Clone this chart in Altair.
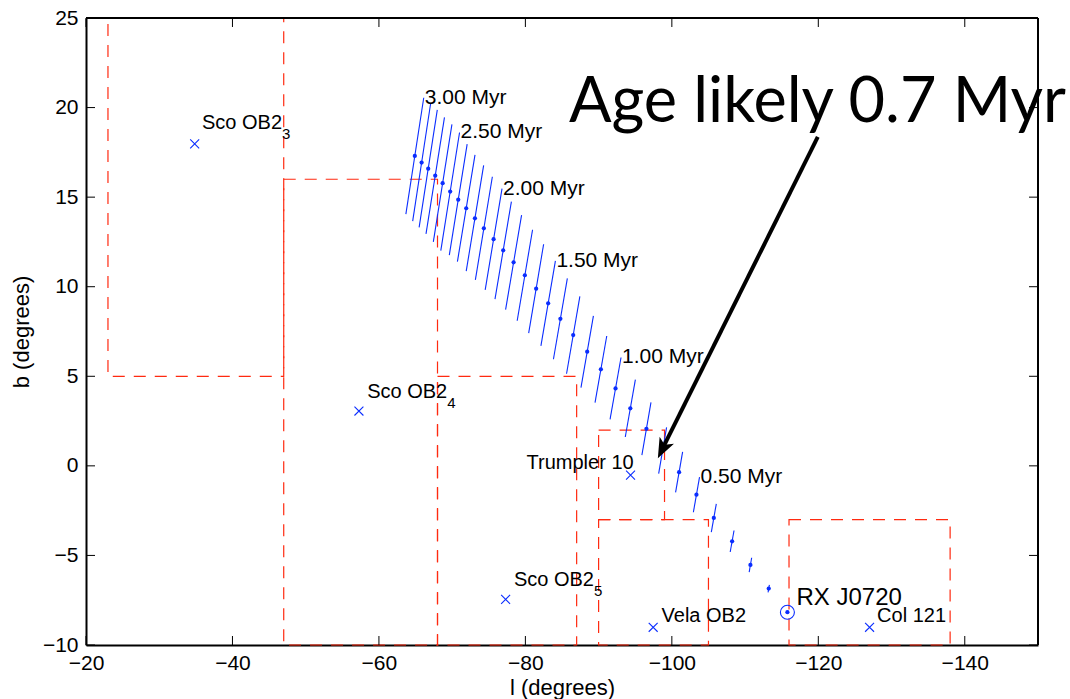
import altair as alt
import pandas as pd

# Back-traced path of RX J0720 (Myr before present), oldest first
track_age = [3.0, 2.9, 2.8, 2.7, 2.6, 2.5, 2.4, 2.3, 2.2, 2.1, 2.0, 1.9, 1.8, 1.7, 1.6,
             1.5, 1.4, 1.3, 1.2, 1.1, 1.0, 0.9, 0.8, 0.7, 0.6, 0.5, 0.4, 0.3, 0.2, 0.1, 0.0]
track_l = [-64.90, -65.83, -66.73, -67.69, -68.70, -69.73, -70.83, -71.92, -73.11, -74.33,
           -75.66, -76.97, -78.39, -79.93, -81.47, -83.11, -84.78, -86.53, -88.44, -90.31,
           -92.31, -94.33, -96.53, -98.74, -100.99, -103.36, -105.73, -108.23, -110.73,
           -113.23, -115.78]
track_b = [17.30, 16.93, 16.59, 16.20, 15.78, 15.31, 14.86, 14.38, 13.82, 13.26,
           12.65, 12.03, 11.36, 10.64, 9.89, 9.07, 8.21, 7.30, 6.37, 5.39,
           4.32, 3.21, 2.07, 0.86, -0.35, -1.61, -2.91, -4.21, -5.53, -6.85, -8.17]
# half-extent of the positional uncertainty along its major axis
err_l = [1.22, 1.22, 1.24, 1.26, 1.27, 1.28, 1.22, 1.20, 1.19, 1.16,
         1.15, 1.12, 1.09, 1.05, 1.02, 0.99, 0.95, 0.91, 0.85, 0.80,
         0.75, 0.69, 0.62, 0.54, 0.48, 0.42, 0.34, 0.26, 0.17, 0.09, 0.0]
err_b = [3.25, 3.27, 3.28, 3.25, 3.28, 3.30, 3.10, 2.98, 2.95, 2.88,
         2.83, 2.72, 2.64, 2.54, 2.48, 2.37, 2.26, 2.16, 2.00, 1.86,
         1.73, 1.60, 1.47, 1.29, 1.13, 0.98, 0.79, 0.60, 0.40, 0.21, 0.0]
labelled_ages = [3.0, 2.5, 2.0, 1.5, 1.0, 0.5]

# OB associations / clusters
cluster_name = ["Sco OB2", "Sco OB2", "Sco OB2", "Trumpler 10", "Vela OB2", "Col 121"]
cluster_sub = ["3", "4", "5", "", "", ""]
cluster_l = [-34.84, -57.27, -77.30, -94.36, -97.45, -127.00]
cluster_b = [17.97, 3.06, -7.45, -0.52, -9.01, -9.01]
label_l = [-35.84, -58.40, -78.43, -80.16, -98.59, -128.03]
label_b = [18.81, 3.77, -6.72, -0.16, -8.72, -8.72]

# neutron star today
star_name = ["RX J0720"]
star_l = [-115.78]
star_b = [-8.17]
star_label_l = [-117.02]
star_label_b = [-7.78]

# boundaries of the association sub-regions
box_l1 = [-23, -47, -68, -90, -90, -116]
box_l2 = [-47, -68, -87, -99, -105, -138]
box_b1 = [5, -10, -10, -3, -10, -10]
box_b2 = [25, 16, 5, 2, -3, -3]

# annotation
note_text = ["Age likely 0.7 Myr"]
note_l = [-85.94]
note_b = [19.2]
arrow_from = (-119.93, 18.36)
arrow_to = (-98.09, 0.43)
arrow_neck = (-98.93, 1.13)

x_ticks = [-20, -40, -60, -80, -100, -120, -140]
y_ticks = [-10, -5, 0, 5, 10, 15, 20, 25]

W, H = 952, 627
FONT = "Liberation Sans"
BLUE = "#0a2dff"
RED = "#ff2a10"

track = pd.DataFrame({"age": track_age, "l": track_l, "b": track_b,
                      "el": err_l, "eb": err_b})
track["l_lo"] = track["l"] + track["el"]
track["b_lo"] = track["b"] - track["eb"]
track["l_hi"] = track["l"] - track["el"]
track["b_hi"] = track["b"] + track["eb"]
age_lab = track[track["age"].isin(labelled_ages)].copy()
age_lab["txt"] = age_lab["age"].map(lambda a: f"{a:.2f} Myr")

clusters = pd.DataFrame({"name": cluster_name, "sub": cluster_sub, "l": cluster_l,
                         "b": cluster_b, "tl": label_l, "tb": label_b})
star = pd.DataFrame({"name": star_name, "l": star_l, "b": star_b,
                     "tl": star_label_l, "tb": star_label_b})
boxes = pd.DataFrame({"l1": box_l1, "l2": box_l2, "b1": box_b1, "b2": box_b2})
note = pd.DataFrame({"txt": note_text, "l": note_l, "b": note_b})
shaft = pd.DataFrame({"l": [arrow_from[0]], "b": [arrow_from[1]],
                      "l2": [arrow_neck[0]], "b2": [arrow_neck[1]]})
head = pd.DataFrame({"l": [arrow_to[0]], "b": [arrow_to[1]]})
xt = pd.DataFrame({"v": x_ticks})
yt = pd.DataFrame({"v": y_ticks})

xs = alt.Scale(domain=[-150, -20], reverse=True, nice=False, zero=False)
ys = alt.Scale(domain=[-10, 25], nice=False, zero=False)

x_axis = alt.Axis(values=x_ticks, title="l (degrees)", ticks=False, grid=False,
                  labelPadding=7, labelFlush=False, labelFontSize=21, labelFont=FONT,
                  labelColor="black", titleFont=FONT, titleFontSize=22,
                  titleFontWeight="normal", titleColor="black", titleX=476, titleY=49,
                  titleBaseline="alphabetic", domainColor="black", domainWidth=2)
y_axis = alt.Axis(values=y_ticks, title="b (degrees)", ticks=False, grid=False,
                  labelPadding=8, labelFontSize=21, labelFont=FONT, labelColor="black",
                  titleFont=FONT, titleFontSize=22, titleFontWeight="normal",
                  titleColor="black", titleX=-58, titleY=313.5, titleAngle=270,
                  titleBaseline="alphabetic", domainColor="black", domainWidth=2)


def X(f):
    return alt.X(f, type="quantitative", scale=xs, axis=x_axis)


def Y(f):
    return alt.Y(f, type="quantitative", scale=ys, axis=y_axis)


region = alt.Chart(boxes).mark_rect(fillOpacity=0, stroke=RED, strokeWidth=1.2,
                                    strokeDash=[12, 9]).encode(
    x=X("l1"), x2="l2", y=Y("b1"), y2="b2")

bars = alt.Chart(track).mark_rule(color=BLUE, strokeWidth=1.1).encode(
    x=X("l_lo"), x2="l_hi", y=Y("b_lo"), y2="b_hi")
dots = alt.Chart(track).mark_circle(color=BLUE, size=18, opacity=1).encode(
    x=X("l"), y=Y("b"))
ages = alt.Chart(age_lab).mark_text(align="left", baseline="middle", dx=1,
                                    font=FONT, fontSize=21, color="black").encode(
    x=X("l_hi"), y=Y("b_hi"), text="txt:N")

cross_shape = "M-1,-1L1,1M-1,1L1,-1"
marks = alt.Chart(clusters).mark_point(shape=cross_shape, size=80, color=BLUE,
                                       strokeWidth=1.1, filled=False, opacity=1).encode(
    x=X("l"), y=Y("b"))
names = alt.Chart(clusters).mark_text(align="left", baseline="alphabetic", font=FONT,
                                      fontSize=20, color="black").encode(
    x=X("tl"), y=Y("tb"), text="name:N")
subs = alt.Chart(clusters).mark_text(align="left", baseline="alphabetic", font=FONT,
                                     fontSize=15, color="black", dx=80, dy=10).encode(
    x=X("tl"), y=Y("tb"), text="sub:N")

ring = alt.Chart(star).mark_point(shape="circle", size=196, color=BLUE, filled=False,
                                  strokeWidth=1.1, opacity=1).encode(x=X("l"), y=Y("b"))
star_txt = alt.Chart(star).mark_text(align="left", baseline="alphabetic", font=FONT,
                                     fontSize=24, color="black").encode(
    x=X("tl"), y=Y("tb"), text="name:N")

note_txt = alt.Chart(note).mark_text(align="left", baseline="alphabetic", font="Lato",
                                     fontSize=63, color="black").encode(
    x=X("l"), y=Y("b"), text="txt:N")
arrow_shaft = alt.Chart(shaft).mark_rule(color="black", strokeWidth=4).encode(
    x=X("l"), y=Y("b"), x2="l2", y2="b2")
arrow_head = alt.Chart(head).mark_point(shape="M0,0L-0.8,2L0,1.5L0.8,2Z", size=400,
                                        angle=206.5, filled=True, color="black",
                                        opacity=1).encode(x=X("l"), y=Y("b"))

# inward-pointing tick marks on all four sides, plus the top/right frame
tick_b = alt.Chart(xt).mark_rule(color="black", strokeWidth=1).encode(
    x=X("v"), y=alt.value(H), y2=alt.value(H - 9))
tick_t = alt.Chart(xt).mark_rule(color="black", strokeWidth=1).encode(
    x=X("v"), y=alt.value(0), y2=alt.value(9))
tick_l = alt.Chart(yt).mark_rule(color="black", strokeWidth=1).encode(
    y=Y("v"), x=alt.value(0), x2=alt.value(9))
tick_r = alt.Chart(yt).mark_rule(color="black", strokeWidth=1).encode(
    y=Y("v"), x=alt.value(W), x2=alt.value(W - 9))
frame_top = alt.Chart(xt).mark_rule(color="black", strokeWidth=1.5).encode(
    x=alt.value(0), x2=alt.value(W), y=alt.value(0))
frame_right = alt.Chart(xt).mark_rule(color="black", strokeWidth=1.5).encode(
    x=alt.value(W), y=alt.value(0), y2=alt.value(H))

chart = alt.layer(
    region, bars, dots, ages, marks, names, subs, ring, star_txt,
    tick_b, tick_t, tick_l, tick_r, frame_top, frame_right,
    arrow_shaft, arrow_head, note_txt,
).properties(
    width=W, height=H,
    autosize=alt.AutoSizeParams(type="none"),
    padding={"left": 86, "top": 18, "right": 32, "bottom": 54},
    background="white",
).configure_view(stroke=None)

chart.save("out.html", embed_options={"renderer": "svg", "actions": False})
